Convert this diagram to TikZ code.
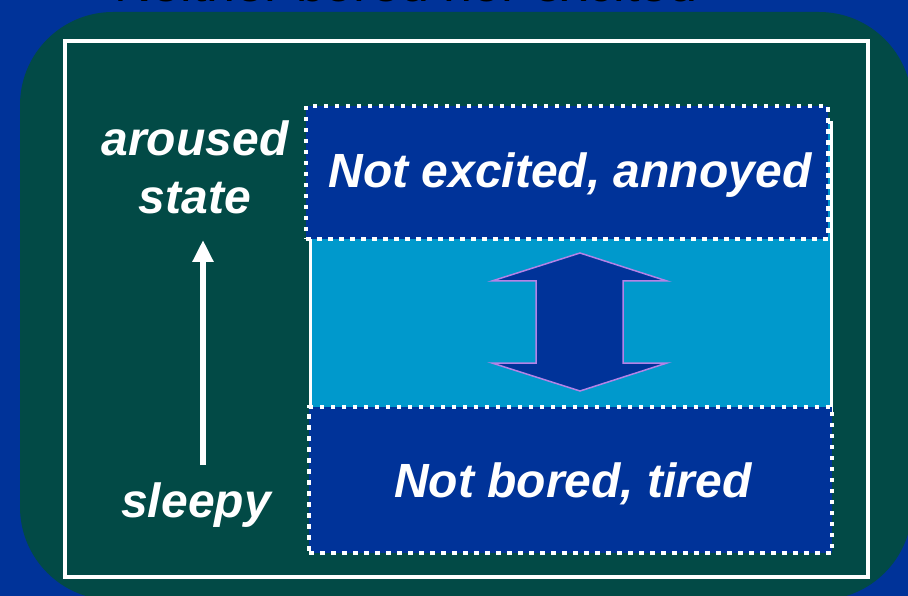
\documentclass[tikz,border=0pt]{standalone}
\usepackage{fontspec}
\setmainfont{Liberation Sans}
\usetikzlibrary{arrows.meta}
\definecolor{bgblue}{RGB}{0,51,153}
\definecolor{tealbg}{RGB}{2,74,70}
\definecolor{boxblue}{RGB}{0,51,153}
\definecolor{bandblue}{RGB}{0,153,204}
\definecolor{arrowpurple}{RGB}{180,130,230}
\begin{document}
\begin{tikzpicture}[x=1pt,y=-1pt,
  lbl/.style={text=white,font=\fontsize{48}{56}\selectfont\bfseries\itshape,anchor=base,inner sep=0pt},
  dotbox/.style={fill=boxblue,draw=white,line width=4.5pt,dash pattern=on 4.5pt off 6.5pt,inner sep=0pt,outer sep=0pt},
  bandbox/.style={fill=bandblue,draw=white,line width=3pt,inner sep=0pt,outer sep=0pt},
]
\useasboundingbox (0,0) rectangle (908,596);
\fill[bgblue] (0,0) rectangle (908,596);
\fill[tealbg,rounded corners=93pt] (20,12) rectangle (912,600);
\node (title) [anchor=base,font=\fontsize{52}{60}\selectfont,text=black,inner sep=0pt] at (406,1.8) {Neither bored nor excited};
\node (frame) [draw=white,line width=4pt,minimum width=803.5pt,minimum height=535.5pt,inner sep=0pt] at (466.25,309.25) {};
\node (band) [bandbox,minimum width=521pt,minimum height=287pt] at (570.5,266.5) {};
\node (topbox) [dotbox,minimum width=522pt,minimum height=133pt] at (567,172.5) {};
\node (botbox) [dotbox,minimum width=523pt,minimum height=146pt] at (570.5,480) {};
\node (toptext) [lbl] at (570,188) {Not excited, annoyed};
\node (bottext) [lbl] at (573,497) {Not bored, tired};
\node (aroused) [lbl] at (195,156) {aroused};
\node (state) [lbl] at (195,214) {state};
\node (sleepy) [lbl] at (196,517) {sleepy};
\coordinate (lfrom) at (203,465);
\coordinate (lto) at (203,240);
\draw[white,line width=6pt,-{Triangle[width=20pt,length=22pt]}] (lfrom) -- (lto);
\draw[fill=boxblue,draw=arrowpurple,line width=1.5pt,line join=miter]
  (580,253) -- (667,281) -- (623,281) -- (623,363) -- (667,363) -- (580,391)
  -- (492,363) -- (536,363) -- (536,281) -- (492,281) -- cycle;
\end{tikzpicture}
\end{document}
